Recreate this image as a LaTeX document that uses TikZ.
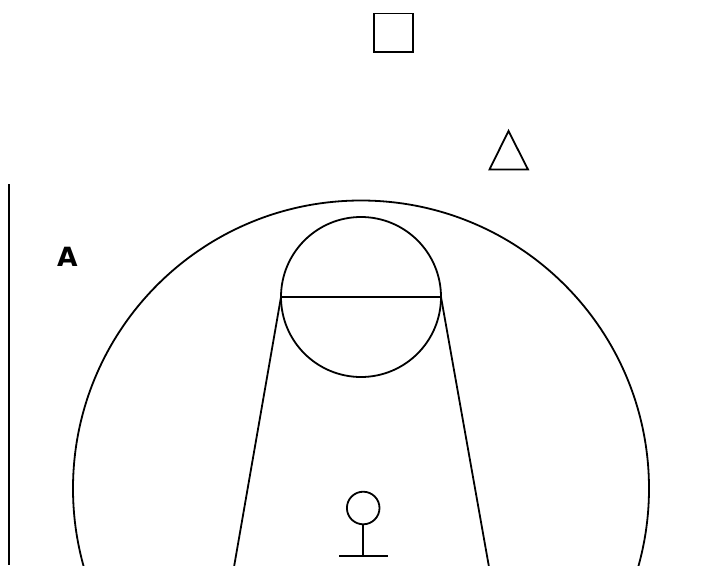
\documentclass[tikz,border=0pt]{standalone}
\usepackage{fontspec}
\setmainfont{DejaVu Sans}
\tikzset{ink/.style={draw=black,line width=1.8pt}}
\begin{document}
\begin{tikzpicture}[x=1pt,y=-1pt]
\useasboundingbox (0,0) rectangle (704,565);
\clip (0,0) rectangle (704,565);
\draw[ink] (374,13.5) rectangle (413,52);
\draw[ink,line join=miter] (508.5,131) -- (528,169.5) -- (489.5,169.5) -- cycle;
\draw[ink] (9.2,184) -- (9.2,565);
\node[inner sep=0pt,font=\fontsize{26.5}{26.5}\selectfont\bfseries] (labelA) at (67.5,256.5) {A};
\draw[ink] (361,488.5) circle (288);
\draw[ink] (361,297) circle (80);
\coordinate (chordL) at (281,297);
\coordinate (chordR) at (441,297);
\coordinate (legL) at (234,567);
\coordinate (legR) at (489,567);
\draw[ink] (chordL) -- (chordR);
\draw[ink] (chordL) -- (legL);
\draw[ink] (chordR) -- (legR);
\draw[ink] (363.2,508) circle (16.3);
\coordinate (stemTop) at (363.2,524.3);
\coordinate (stemBottom) at (363.2,556);
\coordinate (barL) at (339,556);
\coordinate (barR) at (388,556);
\draw[ink] (stemTop) -- (stemBottom);
\draw[ink] (barL) -- (barR);
\end{tikzpicture}
\end{document}
